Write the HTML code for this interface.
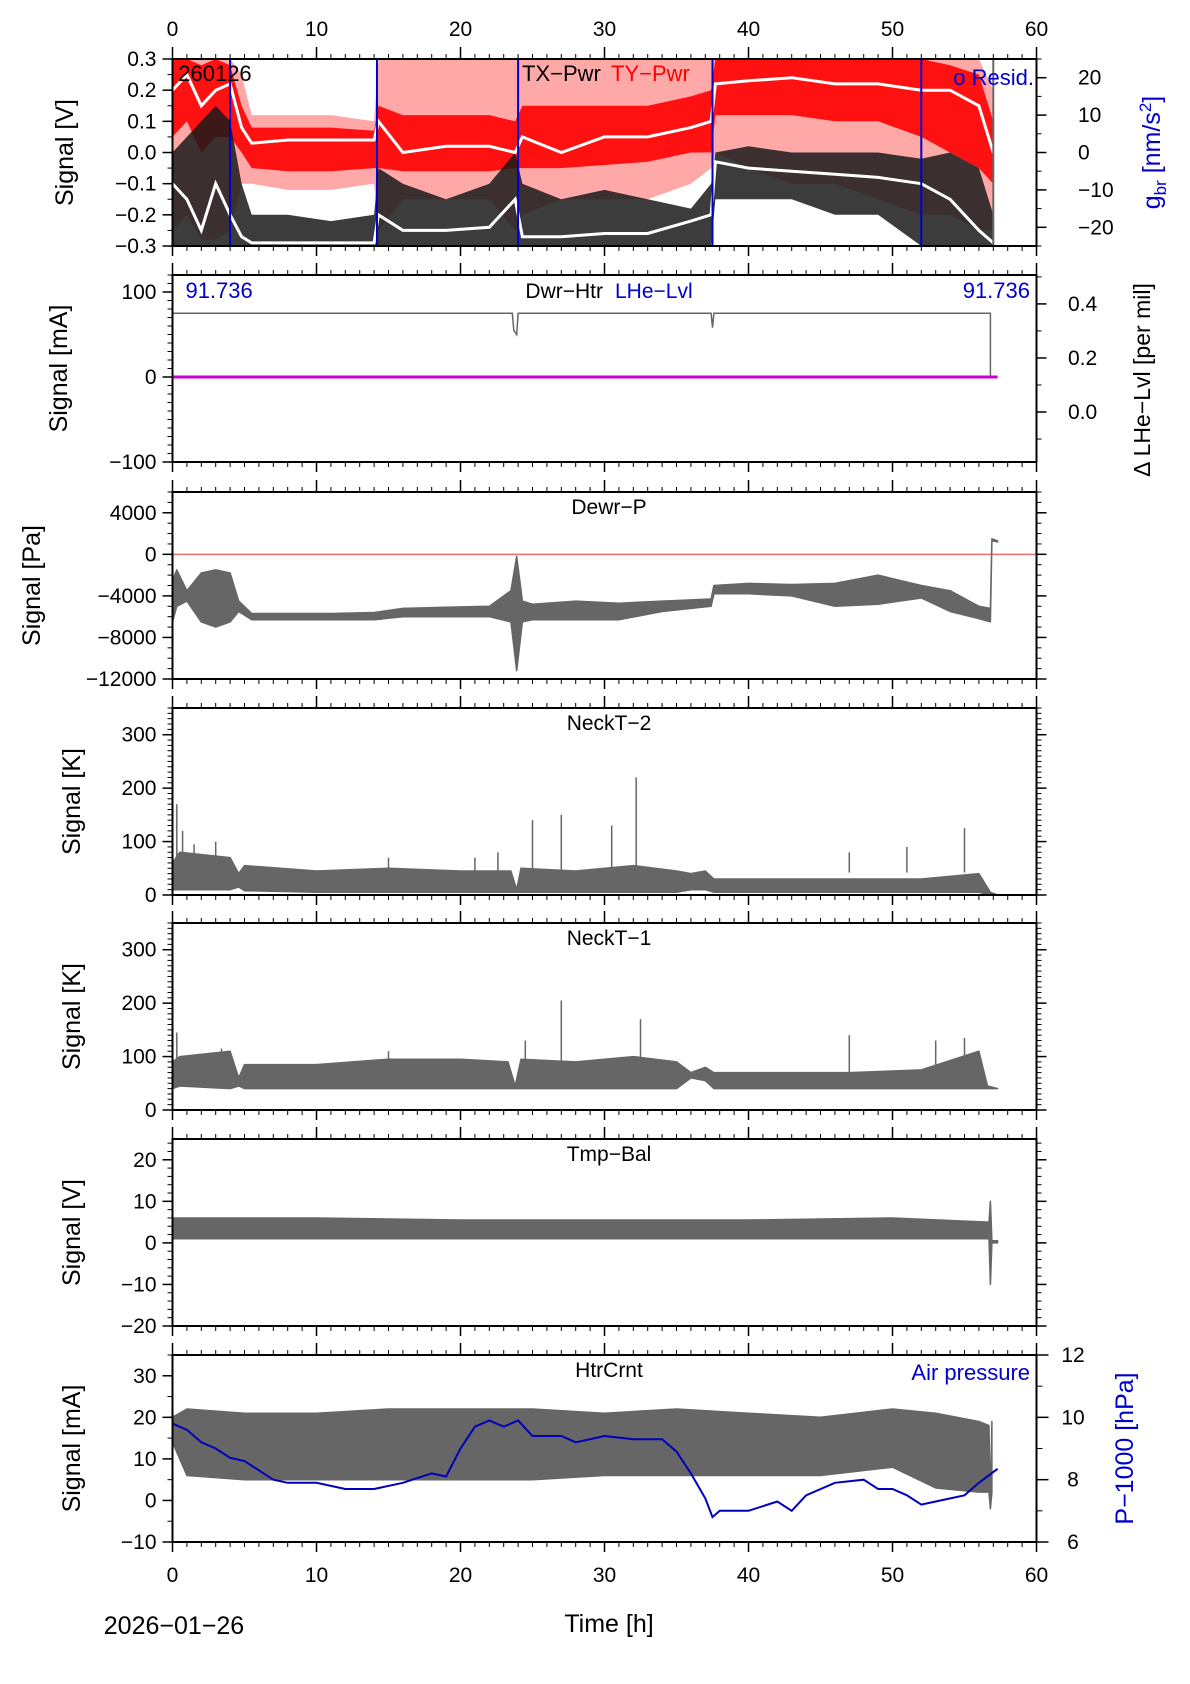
<!DOCTYPE html>
<html><head><meta charset="utf-8">
<style>
html,body{margin:0;padding:0;background:#fff;}
svg{display:block;font-family:"Liberation Sans",sans-serif;}
</style></head>
<body>
<svg id="chart" width="1190" height="1684" viewBox="0 0 1190 1684" xmlns="http://www.w3.org/2000/svg"></svg>
<script>
// ---------- DATA ----------
const p1Hours     = [0,1,2,3,4,4.8,5.5,8,11,14,14.3,16,19,22,23.8,24.3,27,30,33,36,37.4,37.7,40,43,46,49,52,54,56,57];
const p1RedSpHi   = [0.3,0.3,0.3,0.3,0.3,0.25,0.12,0.12,0.12,0.1,0.3,0.3,0.3,0.3,0.3,0.3,0.3,0.3,0.3,0.3,0.3,0.3,0.3,0.3,0.3,0.3,0.3,0.3,0.3,0.2];
const p1RedSpLo   = [-0.25,-0.2,-0.28,-0.28,-0.25,-0.1,-0.1,-0.12,-0.12,-0.1,-0.25,-0.15,-0.15,-0.15,-0.25,-0.2,-0.15,-0.15,-0.15,-0.1,-0.05,0.0,-0.05,-0.1,-0.1,-0.15,-0.2,-0.2,-0.25,-0.25];
const p1RedHi     = [0.3,0.3,0.28,0.3,0.28,0.15,0.08,0.08,0.08,0.07,0.15,0.12,0.12,0.12,0.1,0.15,0.15,0.15,0.15,0.18,0.2,0.3,0.3,0.3,0.3,0.3,0.3,0.28,0.25,0.1];
const p1RedLo     = [0.05,0.1,0.0,0.05,0.05,0.0,-0.05,-0.06,-0.06,-0.05,-0.05,-0.06,-0.06,-0.06,-0.05,-0.05,-0.05,-0.04,-0.03,0.0,0.0,0.12,0.12,0.12,0.1,0.1,0.05,0.0,-0.05,-0.1];
const p1RedMid    = [0.2,0.25,0.15,0.2,0.22,0.08,0.03,0.04,0.04,0.04,0.1,0.0,0.02,0.02,0.0,0.05,0.0,0.05,0.05,0.08,0.1,0.22,0.23,0.24,0.22,0.22,0.2,0.2,0.15,0.0];
const p1BlkHi     = [0.0,0.05,0.1,0.15,0.1,-0.1,-0.2,-0.2,-0.22,-0.2,-0.05,-0.1,-0.15,-0.1,0.0,-0.1,-0.15,-0.12,-0.15,-0.18,-0.1,0.0,0.02,0.0,0.0,0.0,-0.02,0.0,-0.05,-0.2];
const p1BlkLo     = [-0.3,-0.3,-0.3,-0.3,-0.3,-0.3,-0.3,-0.3,-0.3,-0.3,-0.3,-0.3,-0.3,-0.3,-0.3,-0.3,-0.3,-0.3,-0.3,-0.3,-0.3,-0.15,-0.15,-0.15,-0.2,-0.2,-0.3,-0.3,-0.3,-0.3];
const p1BlkMid    = [-0.1,-0.15,-0.25,-0.1,-0.2,-0.27,-0.29,-0.29,-0.29,-0.29,-0.2,-0.25,-0.25,-0.24,-0.15,-0.27,-0.27,-0.26,-0.26,-0.22,-0.2,-0.03,-0.05,-0.06,-0.07,-0.08,-0.1,-0.15,-0.25,-0.29];
const p1Markers   = [4.0,14.2,24.0,37.5,52.0];
const p2Hours = [0,23.6,23.7,23.9,24.0,37.4,37.5,37.6,56.8,56.8];
const p2Vals  = [75,75,55,50,75,75,58,75,75,0];
const p2Lvl   = [0,0]; const p2LvlHours = [0,57.3];
const p3Hours = [0,0.3,1,2,3,4,4.6,5.5,8,11,14,16,19,22,23.5,23.9,24.3,25,28,31,34,37.4,37.6,40,43,46,49,52,54,56,56.8,56.9,57.3];
const p3Hi    = [-2500,-1500,-3500,-1800,-1500,-1800,-4500,-5700,-5700,-5700,-5600,-5200,-5100,-5000,-3500,-200,-4500,-4800,-4500,-4700,-4500,-4300,-3000,-2800,-2900,-2800,-2000,-3000,-3500,-5000,-5200,1500,1300];
const p3Lo    = [-6500,-5000,-4500,-6500,-7000,-6500,-5500,-6300,-6300,-6300,-6300,-6000,-6000,-6000,-6500,-11200,-6500,-6300,-6300,-6300,-5500,-5000,-3800,-3800,-4000,-5000,-4800,-4200,-5500,-6200,-6500,1300,1200];
const p4Hours = [0,0.5,4,4.6,5,10,15,20,23.5,23.9,24.2,28,32,35,36,37,37.6,42,47,52,56,56.8,57.3];
const p4Hi    = [60,80,70,40,55,45,50,45,45,10,50,45,55,45,40,45,30,30,30,30,40,5,0];
const p4Lo    = [10,10,10,15,8,5,5,5,5,5,5,5,5,5,10,10,5,5,5,5,5,0,0];
const p4SpikeH = [0.3,0.7,1.5,3,15,21,22.6,25,27,30.5,32.2,47,51,55];
const p4SpikeV = [170,120,95,100,70,70,80,140,150,130,220,80,90,125];
const p5Hours = [0,0.5,4,4.6,5,10,15,20,23.3,23.8,24.2,28,32,35,36,37,37.6,42,47,52,56,56.6,57.3];
const p5Hi    = [90,100,110,60,85,85,95,95,90,45,95,90,100,90,70,80,70,70,70,75,110,45,40];
const p5Lo    = [40,45,40,45,40,40,40,40,40,40,40,40,40,40,60,55,40,40,40,40,40,40,40];
const p5SpikeH = [0.3,3.4,15,24.5,27,32.5,47,53,55];
const p5SpikeV = [145,115,110,130,205,170,140,130,135];
const p6Hours = [0,10,20,30,40,50,56.7,56.8,56.9,57.3];
const p6Hi    = [6,6,5.5,5.5,5.5,6,5,10,0.5,0.5];
const p6Lo    = [1,1,1,1,1,1,1,-10,0,0];
const p7Hours = [0,1,5,10,15,20,25,30,35,40,45,50,53,56,56.7,56.8,56.9];
const p7Hi    = [20,22,21,21,22,22,22,21,22,21,20,22,21,19,18,-2,19];
const p7Lo    = [14,6,5,5,5,5,5,6,6,6,6,8,3,2,2,-2,2];
const presHours = [0,1,2,3,4,5,6,7,8,10,12,14,16,18,19,20,21,22,23,24,25,27,28,30,32,34,35,36,37,37.5,38,40,42,43,44,46,48,49,50,51,52,53,55,56,57.3];
const presVals  = [9.8,9.6,9.2,9.0,8.7,8.6,8.3,8.0,7.9,7.9,7.7,7.7,7.9,8.2,8.1,9.0,9.7,9.9,9.7,9.9,9.4,9.4,9.2,9.4,9.3,9.3,8.9,8.2,7.4,6.8,7.0,7.0,7.3,7.0,7.5,7.9,8.0,7.7,7.7,7.5,7.2,7.3,7.5,7.9,8.35];
const xTicks = [0,10,20,30,40,50,60];

// ---------- LAYOUT ----------
const svg = document.getElementById('chart');
const NS = 'http://www.w3.org/2000/svg';
const L = 172.5, R = 1036.5, H = 187;
const X = h => L + (h / 60) * (R - L);
function mk(tag, attrs, parent) {
  const e = document.createElementNS(NS, tag);
  for (const k in attrs) e.setAttribute(k, attrs[k]);
  (parent || svg).appendChild(e);
  return e;
}
function txt(s, x, y, size, anchor, fill, parent, rot) {
  const t = mk('text', {x: x, y: y, 'font-size': size, 'text-anchor': anchor || 'middle', fill: fill || '#000'}, parent);
  if (rot) t.setAttribute('transform', 'rotate(-90 ' + x + ' ' + y + ')');
  t.textContent = s;
  return t;
}
const panels = [
  {top: 59,   min: -0.3, max: 0.3,   ticks: [-0.3,-0.2,-0.1,0.0,0.1,0.2,0.3], minor: 0.05, fmt: v => v.toFixed(1).replace('-', '\u2212'), label: 'Signal [V]', lx: 65, name: 'tx-ty-pwr'},
  {top: 275,  min: -100, max: 120,   ticks: [-100,0,100], minor: 10, label: 'Signal [mA]', lx: 59, name: 'dwr-htr'},
  {top: 492,  min: -12000, max: 6000, ticks: [-12000,-8000,-4000,0,4000], minor: 1000, label: 'Signal [Pa]', lx: 32, name: 'dewr-p'},
  {top: 708,  min: 0, max: 350,      ticks: [0,100,200,300], minor: 10, label: 'Signal [K]', lx: 72, name: 'neckt-2'},
  {top: 923,  min: 0, max: 350,      ticks: [0,100,200,300], minor: 10, label: 'Signal [K]', lx: 72, name: 'neckt-1'},
  {top: 1139, min: -20, max: 25,     ticks: [-20,-10,0,10,20], minor: 2, label: 'Signal [V]', lx: 72, name: 'tmp-bal'},
  {top: 1355, min: -10, max: 35,     ticks: [-10,0,10,20,30], minor: 5, label: 'Signal [mA]', lx: 72, name: 'htrcrnt'}
];
panels.forEach(p => { p.Y = v => p.top + (p.max - v) / (p.max - p.min) * H; });
const fmtDef = v => String(v).replace('-', '\u2212');

function bandPath(hs, hi, lo, Y) {
  let d = '';
  hs.forEach((h, i) => { d += (i ? 'L' : 'M') + X(h).toFixed(1) + ',' + Y(hi[i]).toFixed(1); });
  for (let i = hs.length - 1; i >= 0; i--) d += 'L' + X(hs[i]).toFixed(1) + ',' + Y(lo[i]).toFixed(1);
  return d + 'Z';
}
function linePath(hs, vs, Y) {
  return hs.map((h, i) => (i ? 'L' : 'M') + X(h).toFixed(1) + ',' + Y(vs[i]).toFixed(1)).join('');
}

panels.forEach((p, pi) => {
  const g = mk('g', {});
  
  
  const clipId = 'clip' + pi;
  const cp = mk('clipPath', {id: clipId}, g);
  mk('rect', {x: L, y: p.top, width: R - L, height: H}, cp);
  const plot = mk('g', {'clip-path': 'url(#' + clipId + ')'}, g);
  
  
  p.plot = plot;
  const fr = mk('rect', {x: L, y: p.top, width: R - L, height: H, fill: 'none', stroke: '#000', 'stroke-width': 2}, g);
  
  
  for (let v = p.min; v <= p.max + 1e-9; v += p.minor) {
    const y = p.Y(v);
    mk('line', {x1: L - 5, x2: L, y1: y, y2: y, stroke: '#000', 'stroke-width': 1}, g);
    if (pi >= 2 && pi <= 5) mk('line', {x1: R, x2: R + 5, y1: y, y2: y, stroke: '#000', 'stroke-width': 1}, g);
  }
  p.ticks.forEach(v => {
    const y = p.Y(v);
    mk('line', {x1: L - 10, x2: L, y1: y, y2: y, stroke: '#000', 'stroke-width': 1.5}, g);
    if (pi >= 2 && pi <= 5) mk('line', {x1: R, x2: R + 10, y1: y, y2: y, stroke: '#000', 'stroke-width': 1.5}, g);
    const t = txt((p.fmt || fmtDef)(v), L - 16, y + 7, 21, 'end', '#000', g);
    
    
  });
  for (let h = 0; h <= 60; h++) {
    const x = X(h), maj = h % 10 === 0;
    mk('line', {x1: x, x2: x, y1: p.top + H, y2: p.top + H + (maj ? 10 : 5), stroke: '#000', 'stroke-width': maj ? 1.5 : 1}, g);
    mk('line', {x1: x, x2: x, y1: p.top - (maj ? 12 : 5), y2: p.top, stroke: '#000', 'stroke-width': maj ? 1.5 : 1}, g);
  }
  const yl = txt(p.label, p.lx + 8, p.top + H / 2, 25, 'middle', '#000', g, true);
  
  
});

// ---------- Panel 1 ----------
(function () {
  const p = panels[0], g = p.plot;
  const rs = mk('path', {d: bandPath(p1Hours, p1RedSpHi, p1RedSpLo, p.Y), fill: '#ff6060', 'fill-opacity': 0.55}, g);
  
  
  const r = mk('path', {d: bandPath(p1Hours, p1RedHi, p1RedLo, p.Y), fill: '#ff0000', 'fill-opacity': 0.9}, g);
  
  
  const b = mk('path', {d: bandPath(p1Hours, p1BlkHi, p1BlkLo, p.Y), fill: '#1a1a1a', 'fill-opacity': 0.85}, g);
  
  
  const wm = mk('path', {d: linePath(p1Hours, p1RedMid, p.Y), fill: 'none', stroke: '#fff', 'stroke-width': 3}, g);
  
  
  const wb = mk('path', {d: linePath(p1Hours, p1BlkMid, p.Y), fill: 'none', stroke: '#fff', 'stroke-width': 3}, g);
  
  
  p1Markers.forEach(h => {
    const l = mk('line', {x1: X(h), x2: X(h), y1: p.top, y2: p.top + H, stroke: '#0000cc', 'stroke-width': 2}, g);
    
    
  });
  mk('line', {x1: X(57), x2: X(57), y1: p.top, y2: p.top + H, stroke: '#666', 'stroke-width': 2}, g);
  const t1 = txt('260126', X(0.4), p.top + 22, 22, 'start', '#000');
   
  const t2 = txt('TX\u2212Pwr', 522, p.top + 22, 22, 'start', '#000');
   
  const t3 = txt('TY\u2212Pwr', 611, p.top + 22, 22, 'start', '#ff0000');
   
  const t4 = txt('o Resid.', 1034, p.top + 26, 22, 'end', '#0000cc');
   
  const G = v => p.top + (25 - v) / 50 * H;
  [-20,-10,0,10,20].forEach(v => {
    mk('line', {x1: R, x2: R + 10, y1: G(v), y2: G(v), stroke: '#000', 'stroke-width': 1.5});
    const t = txt(fmtDef(v), 1078, G(v) + 7, 21, 'start', '#000');
     
  });
  for (let v = -25; v <= 25; v += 5) mk('line', {x1: R, x2: R + 5, y1: G(v), y2: G(v), stroke: '#000'});
  const rt = mk('text', {x: 1160, y: p.top + H / 2, 'font-size': 25, 'text-anchor': 'middle', fill: '#0000cc', transform: 'rotate(-90 1160 ' + (p.top + H / 2) + ')'});
   
  rt.innerHTML = 'g<tspan font-size="17" dy="6">br</tspan><tspan dy="-6"> [nm/s</tspan><tspan font-size="17" dy="-9">2</tspan><tspan dy="9">]</tspan>';
})();

// ---------- Panel 2 ----------
(function () {
  const p = panels[1], g = p.plot;
  const l = mk('path', {d: linePath(p2Hours, p2Vals, p.Y), fill: 'none', stroke: '#666', 'stroke-width': 1.5}, g);
   
  const m = mk('path', {d: linePath(p2LvlHours, p2Lvl, p.Y), fill: 'none', stroke: '#cc00cc', 'stroke-width': 3}, g);
   
  const a = txt('91.736', X(0.9), p.top + 23, 22, 'start', '#0000cc');  
  const b = txt('91.736', 1030, p.top + 23, 22, 'end', '#0000cc');  
  const c = txt('Dwr\u2212Htr', 603, p.top + 23, 21, 'end', '#000');  
  const d = txt('LHe\u2212Lvl', 615, p.top + 23, 21, 'start', '#0000cc');  
  const D = v => p.top + (0.507 - v) / 0.692 * H;
  [0.0, 0.2, 0.4].forEach(v => {
    mk('line', {x1: R, x2: R + 10, y1: D(v), y2: D(v), stroke: '#000', 'stroke-width': 1.5});
    const t = txt(v.toFixed(1), 1068, D(v) + 7, 21, 'start', '#000');
     
  });
  [-0.1, 0.1, 0.3, 0.5].forEach(v => mk('line', {x1: R, x2: R + 5, y1: D(v), y2: D(v), stroke: '#000'}));
  const rt = txt('\u0394 LHe\u2212Lvl [per mil]', 1150, p.top + 105, 23, 'middle', '#000', svg, true);
   
})();

// ---------- Panels 3-6 ----------
function bandPanel(p, hs, hi, lo, title, sH, sV) {
  const g = p.plot;
  const b = mk('path', {d: bandPath(hs, hi, lo, p.Y), fill: '#666', stroke: '#666', 'stroke-width': 1.5, 'stroke-linejoin': 'round'}, g);
   
  if (sH) sH.forEach((h, i) => {
    const s = mk('line', {x1: X(h), x2: X(h), y1: p.Y(sV[i]), y2: p.Y(p.min + (p.max - p.min) * 0.12), stroke: '#666', 'stroke-width': 1.5}, g);
     
  });
  const t = txt(title, 609, p.top + 22, 21, 'middle', '#000');
   
}
(function () {
  const p = panels[2];
  const z = mk('line', {x1: L, x2: R, y1: p.Y(0), y2: p.Y(0), stroke: '#e87070', 'stroke-width': 1.5}, p.plot);
   
  bandPanel(p, p3Hours, p3Hi, p3Lo, 'Dewr\u2212P');
})();
bandPanel(panels[3], p4Hours, p4Hi, p4Lo, 'NeckT\u22122', p4SpikeH, p4SpikeV);
bandPanel(panels[4], p5Hours, p5Hi, p5Lo, 'NeckT\u22121', p5SpikeH, p5SpikeV);
bandPanel(panels[5], p6Hours, p6Hi, p6Lo, 'Tmp\u2212Bal');

// ---------- Panel 7 ----------
(function () {
  const p = panels[6];
  bandPanel(p, p7Hours, p7Hi, p7Lo, 'HtrCrnt');
  const P = v => p.top + (12 - v) / 6 * H;
  const pl = mk('path', {d: linePath(presHours, presVals, P), fill: 'none', stroke: '#0000bb', 'stroke-width': 2}, p.plot);
   
  const lg = txt('Air pressure', 1030, p.top + 25, 22, 'end', '#0000cc');
   
  [6, 8, 10, 12].forEach(v => {
    mk('line', {x1: R, x2: R + 12, y1: P(v), y2: P(v), stroke: '#000', 'stroke-width': 1.5});
    const t = txt(String(v), 1073, P(v) + 7, 21, 'middle', '#000');
     
  });
  [7, 9, 11].forEach(v => mk('line', {x1: R, x2: R + 6, y1: P(v), y2: P(v), stroke: '#000'}));
  const rt = txt('P\u22121000 [hPa]', 1133, p.top + H / 2, 25, 'middle', '#0000cc', svg, true);
   
})();

// ---------- X labels ----------
xTicks.forEach(h => {
  const a = txt(String(h), X(h), 36, 21, 'middle', '#000');
   
  const b = txt(String(h), X(h), 1582, 21, 'middle', '#000');
   
});
const xt = txt('Time [h]', 609, 1632, 25, 'middle', '#000');
 
const dt = txt('2026\u221201\u221226', 174, 1634, 25, 'middle', '#000');
 
</script>
</body></html>
